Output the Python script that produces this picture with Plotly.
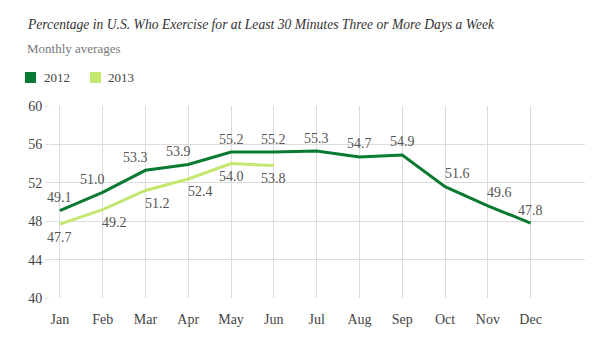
import plotly.graph_objects as go

months = ["Jan", "Feb", "Mar", "Apr", "May", "Jun", "Jul", "Aug", "Sep", "Oct", "Nov", "Dec"]
values_2012 = [49.1, 51.0, 53.3, 53.9, 55.2, 55.2, 55.3, 54.7, 54.9, 51.6, 49.6, 47.8]
values_2013 = [47.7, 49.2, 51.2, 52.4, 54.0, 53.8]
y_ticks = [40, 44, 48, 52, 56, 60]

# where each value label sits relative to its point
side_2012 = ["c", "l", "l", "l", "c", "c", "c", "c", "c", "r", "r", "c"]
side_2013 = ["c", "r", "r", "r", "c", "c"]
XSHIFT = {"l": -10, "c": 0, "r": 12}

DARK = "#0a7a32"
LIGHT = "#c3e86f"
SERIF = "Liberation Serif"
LABEL_FONT = dict(family=SERIF, size=14, color="#555")

x_idx = list(range(len(months)))

fig = go.Figure()
fig.add_trace(go.Scatter(
    x=x_idx, y=values_2012, mode="lines", name="2012",
    line=dict(color=DARK, width=3), showlegend=False,
))
fig.add_trace(go.Scatter(
    x=x_idx[:len(values_2013)], y=values_2013, mode="lines", name="2013",
    line=dict(color=LIGHT, width=3), showlegend=False,
))

annotations = []
for xi, v, s in zip(x_idx, values_2012, side_2012):
    annotations.append(dict(x=xi, y=v, xref="x", yref="y", text=f"{v:.1f}", showarrow=False,
                            xshift=XSHIFT[s], yshift=13, font=LABEL_FONT))
for xi, v, s in zip(x_idx, values_2013, side_2013):
    annotations.append(dict(x=xi, y=v, xref="x", yref="y", text=f"{v:.1f}", showarrow=False,
                            xshift=XSHIFT[s], yshift=-13, font=LABEL_FONT))

annotations += [
    dict(text="<i>Percentage in U.S. Who Exercise for at Least 30 Minutes Three or More Days a Week</i>",
         xref="paper", yref="paper", x=-0.047, y=1.0, xanchor="left", yanchor="middle",
         yshift=82, showarrow=False, font=dict(family=SERIF, size=13.6, color="#333")),
    dict(text="Monthly averages",
         xref="paper", yref="paper", x=-0.047, y=1.0, xanchor="left", yanchor="middle",
         yshift=58, showarrow=False, font=dict(family=SERIF, size=13, color="#777")),
    dict(text="2012", xref="paper", yref="paper", x=-0.015, y=1.0, xanchor="left", yanchor="middle",
         yshift=29, showarrow=False, font=dict(family=SERIF, size=13, color="#444")),
    dict(text="2013", xref="paper", yref="paper", x=0.104, y=1.0, xanchor="left", yanchor="middle",
         yshift=29, showarrow=False, font=dict(family=SERIF, size=13, color="#444")),
]

fig.update_layout(
    width=612, height=339,
    margin=dict(l=50, r=27, t=106, b=38),
    paper_bgcolor="white", plot_bgcolor="white",
    font=dict(family=SERIF, color="#444"),
    xaxis=dict(
        range=[-0.23, 12.27], tickvals=x_idx, ticktext=months,
        showgrid=True, gridcolor="#dcdcdc", gridwidth=1,
        zeroline=False, showline=False,
        ticks="outside", ticklen=8, tickcolor="rgba(0,0,0,0)",
        tickfont=dict(family=SERIF, size=14, color="#444"),
    ),
    yaxis=dict(
        range=[40, 60], tickvals=y_ticks,
        showgrid=True, gridcolor="#dcdcdc", gridwidth=1,
        zeroline=False, showline=False,
        ticks="outside", ticklen=4, tickcolor="#dcdcdc",
        tickfont=dict(family=SERIF, size=14, color="#444"),
    ),
    annotations=annotations,
)

# legend swatches, sized in pixels above the plot area
for col, x0 in ((DARK, 25), (LIGHT, 90)):
    fig.add_shape(type="rect", xref="paper", yref="paper",
                  xsizemode="pixel", ysizemode="pixel", xanchor=0, yanchor=1,
                  x0=x0 - 50, x1=x0 - 50 + 11, y0=23, y1=34,
                  line=dict(width=0), fillcolor=col)

fig.write_html("out.html")
